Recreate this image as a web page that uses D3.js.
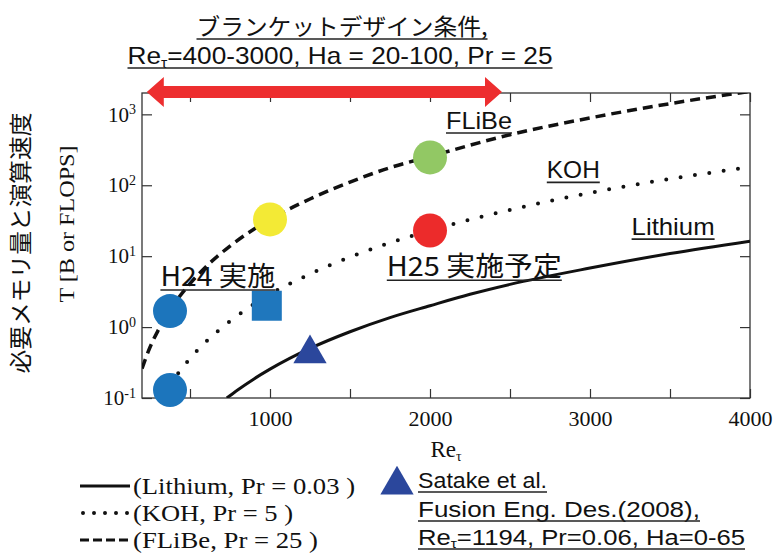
<!DOCTYPE html>
<html>
<meta charset="utf-8">
<style>
    body{margin:0;background:#fff;}
    svg{display:block;}
</style>
<body>
<svg width="775" height="554"></svg>
<script src="https://d3js.org/d3.v7.min.js"></script>
<script>

    // curves: [Re_tau, T]
    let flibeCurve = [[200, 0.26], [250, 0.52], [300, 0.89], [375, 1.74], [500, 4.1], [600, 7.1], [750, 13.9],
        [1000, 33], [1250, 64], [1500, 111], [1750, 177], [2000, 255], [2500, 516], [3000, 890], [3500, 1415], [4000, 2110]];
    let kohCurve = [[330, 0.1], [400, 0.184], [500, 0.36], [600, 0.62], [750, 1.21], [1000, 2.9], [1250, 5.6],
        [1500, 9.7], [1750, 15.4], [2000, 23], [2500, 45], [3000, 78], [3500, 123], [4000, 180]];
    let lithiumCurve = [[730, 0.1], [800, 0.131], [900, 0.186], [1000, 0.255], [1250, 0.5], [1500, 0.86],
        [1750, 1.36], [2000, 2.0], [2250, 2.9], [2500, 4.0], [3000, 6.8], [3500, 10.9], [4000, 16.3]];

    // cases (circles), square and Satake triangle
    let caseRe = [375, 375, 1000, 2000, 2000];
    let caseT = [1.68, 0.13, 33, 247, 23];
    let caseColor = ["#1c75bc", "#1c75bc", "#f3ea35", "#92c864", "#ec2b2b"];
    let squareRe = 980, squareT = 2.0;
    let satakeRe = 1250, satakeT = 0.45;

    let xTicks = [500, 1000, 1500, 2000, 2500, 3000, 3500, 4000];
    let yTicks = [0.1, 1, 10, 100, 1000];
    let yExp = ["-1", "0", "1", "2", "3"];
    let rangeRe = [230, 2450];   // red arrow ends

    let svg = d3.select("svg"),
        margin = {top: 93, right: 25, bottom: 156, left: 142},
        width = +svg.attr("width") - margin.left - margin.right,
        height = +svg.attr("height") - margin.top - margin.bottom;

    let x = d3.scaleLinear().domain([200, 4000]).range([0, width]);
    let y = d3.scaleLog().domain([0.1, 2000]).range([height, 0]);

    let serif = "'Liberation Serif', 'Times New Roman', serif",
        sans = "'Liberation Sans', Arial, sans-serif",
        jp = "'Noto Sans CJK JP', sans-serif";

    let g = svg.append("g").attr("transform", "translate(" + margin.left + "," + margin.top + ")");

    g.append("clipPath").attr("id", "clip")
        .append("rect").attr("width", width).attr("height", height);

    // axes with inward ticks
    let axStyle = function (sel) {
        sel.select(".domain").remove();
        sel.selectAll("line").attr("stroke", "#333").attr("stroke-width", 1.2);
    };
    g.append("g").attr("transform", "translate(0," + height + ")")
        .call(d3.axisBottom(x).tickValues(xTicks).tickSize(-9).tickPadding(12)
            .tickFormat(function (d) { return d % 1000 === 0 ? d : ""; }))
        .call(axStyle)
        .selectAll("text").attr("font-family", serif).attr("font-size", 22).attr("fill", "#111");
    g.append("g")
        .call(d3.axisTop(x).tickValues(xTicks).tickSize(-9).tickFormat(""))
        .call(axStyle);
    let yAx = g.append("g")
        .call(d3.axisLeft(y).tickValues(yTicks).tickSize(-10).tickPadding(6))
        .call(axStyle);
    yAx.selectAll("text").each(function (d, i) {
        let t = d3.select(this).text("").attr("font-family", serif).attr("font-size", 21).attr("fill", "#111");
        t.append("tspan").text("10");
        t.append("tspan").attr("dy", "-0.55em").attr("font-size", 14).text(yExp[i]);
    });
    g.append("g").attr("transform", "translate(" + width + ",0)")
        .call(d3.axisRight(y).tickValues(yTicks).tickSize(-10).tickFormat(""))
        .call(axStyle);

    g.append("rect").attr("width", width).attr("height", height)
        .attr("fill", "none").attr("stroke", "#333").attr("stroke-width", 1.3);

    // curves
    let line = d3.line()
        .x(function (d) { return x(d[0]); })
        .y(function (d) { return y(d[1]); })
        .curve(d3.curveMonotoneX);
    let curves = g.append("g").attr("clip-path", "url(#clip)").attr("fill", "none").attr("stroke", "#111");
    curves.append("path").datum(lithiumCurve).attr("d", line).attr("stroke-width", 3);
    curves.append("path").datum(kohCurve).attr("d", line).attr("stroke-width", 4)
        .attr("stroke-linecap", "round").attr("stroke-dasharray", "0 14.5");
    curves.append("path").datum(flibeCurve).attr("d", line).attr("stroke-width", 3.5)
        .attr("stroke-dasharray", "10 6");

    // markers
    g.selectAll(".case").data(caseRe).enter().append("circle")
        .attr("cx", function (d) { return x(d); })
        .attr("cy", function (d, i) { return y(caseT[i]); })
        .attr("r", 17)
        .attr("fill", function (d, i) { return caseColor[i]; });
    g.append("rect")
        .attr("x", x(squareRe) - 15).attr("y", y(squareT) - 15)
        .attr("width", 30).attr("height", 30).attr("fill", "#1f77bd");
    let tri = d3.symbol().type(d3.symbolTriangle).size(480);
    g.append("path").attr("d", tri)
        .attr("transform", "translate(" + x(satakeRe) + "," + (y(satakeT) + 2) + ")")
        .attr("fill", "#2b479c");

    // red range arrow
    let ax0 = x(rangeRe[0]), ax1 = x(rangeRe[1]), ay = -1;
    let arrow = d3.path();
    arrow.moveTo(ax0, ay);
    arrow.lineTo(ax0 + 17, ay - 15);
    arrow.lineTo(ax0 + 17, ay - 6);
    arrow.lineTo(ax1 - 17, ay - 6);
    arrow.lineTo(ax1 - 17, ay - 15);
    arrow.lineTo(ax1, ay);
    arrow.lineTo(ax1 - 17, ay + 15);
    arrow.lineTo(ax1 - 17, ay + 6);
    arrow.lineTo(ax0 + 17, ay + 6);
    arrow.lineTo(ax0 + 17, ay + 15);
    arrow.closePath();
    g.append("path").attr("d", arrow.toString()).attr("fill", "#ed2e2f");

    // underlined text helper
    function ulText(parent, px, py, str, size, family, len, anchor) {
        let t = parent.append("text")
            .attr("x", px).attr("y", py)
            .attr("font-family", family).attr("font-size", size)
            .attr("fill", "#111")
            .attr("text-anchor", anchor || "start");
        if (Array.isArray(str)) {
            t.append("tspan").text(str[0]);
            t.append("tspan").attr("dy", "0.25em").attr("font-size", size * 0.6).text(str[1]);
            t.append("tspan").attr("dy", "-0.15em").text(str[2]);
        } else {
            t.text(str);
        }
        if (len) t.attr("textLength", len).attr("lengthAdjust", "spacingAndGlyphs");
        let b = t.node().getBBox();
        parent.append("line")
            .attr("x1", b.x).attr("x2", b.x + b.width)
            .attr("y1", py + 4).attr("y2", py + 4)
            .attr("stroke", "#222").attr("stroke-width", 1.6);
        return t;
    }

    // labels inside plot
    ulText(g, x(2100), y(620), "FLiBe", 24, sans, 66);
    ulText(g, x(2730), y(125), "KOH", 24, sans, 53);
    ulText(g, x(3260), y(19.8), "Lithium", 24, sans, 83);
    ulText(g, x(315), y(3.8), "H24 実施", 27, jp, 115);
    ulText(g, x(1730), y(5.2), "H25 実施予定", 27, jp, 175);

    // title
    ulText(svg, 342, 35, "ブランケットデザイン条件,", 23, jp, 291, "middle");
    ulText(svg, 340, 64, ["Re", "τ", "=400-3000, Ha = 20-100, Pr = 25"], 24, sans, 425, "middle");

    // axis titles
    let xt = svg.append("text").attr("x", margin.left + width / 2).attr("y", 457)
        .attr("text-anchor", "middle").attr("font-family", serif).attr("font-size", 23).attr("fill", "#111");
    xt.append("tspan").text("Re");
    xt.append("tspan").attr("dy", "0.3em").attr("font-size", 14).text("τ");

    svg.append("text").attr("transform", "translate(29,243) rotate(-90)")
        .attr("text-anchor", "middle").attr("font-family", jp).attr("font-size", 23)
        .attr("textLength", 261).attr("lengthAdjust", "spacingAndGlyphs")
        .attr("fill", "#111").text("必要メモリ量と演算速度");
    svg.append("text").attr("transform", "translate(74,224) rotate(-90)")
        .attr("text-anchor", "middle").attr("font-family", serif).attr("font-size", 21)
        .attr("textLength", 157).attr("lengthAdjust", "spacingAndGlyphs")
        .attr("fill", "#111").text("T [B or FLOPS]");

    // legend
    let legNames = ["(Lithium, Pr = 0.03 )", "(KOH, Pr = 5 )", "(FLiBe, Pr = 25 )"];
    let legDash = [null, "0 11", "9 4"];
    let legCap = ["butt", "round", "butt"];
    let legLen = [222, 160, 185];
    let leg = svg.append("g").attr("transform", "translate(80,486)");
    legNames.forEach(function (name, i) {
        leg.append("line").attr("x1", i === 1 ? 3 : 0).attr("x2", 50)
            .attr("y1", i * 27).attr("y2", i * 27)
            .attr("stroke", "#111").attr("stroke-width", i === 1 ? 4 : 3)
            .attr("stroke-linecap", legCap[i])
            .attr("stroke-dasharray", legDash[i]);
        leg.append("text").attr("x", 53).attr("y", i * 27 + 8)
            .attr("font-family", serif).attr("font-size", 23).attr("fill", "#111")
            .attr("textLength", legLen[i]).attr("lengthAdjust", "spacingAndGlyphs")
            .text(name);
    });

    // Satake reference
    svg.append("path").attr("d", tri).attr("transform", "translate(397,485)").attr("fill", "#2b479c");
    ulText(svg, 418, 488, "Satake et al.", 22, sans, 129);
    ulText(svg, 418, 517, "Fusion Eng. Des.(2008),", 22, sans, 282);
    ulText(svg, 418, 545, ["Re", "τ", "=1194, Pr=0.06, Ha=0-65"], 22, sans, 327);

</script>
</body>
</html>
